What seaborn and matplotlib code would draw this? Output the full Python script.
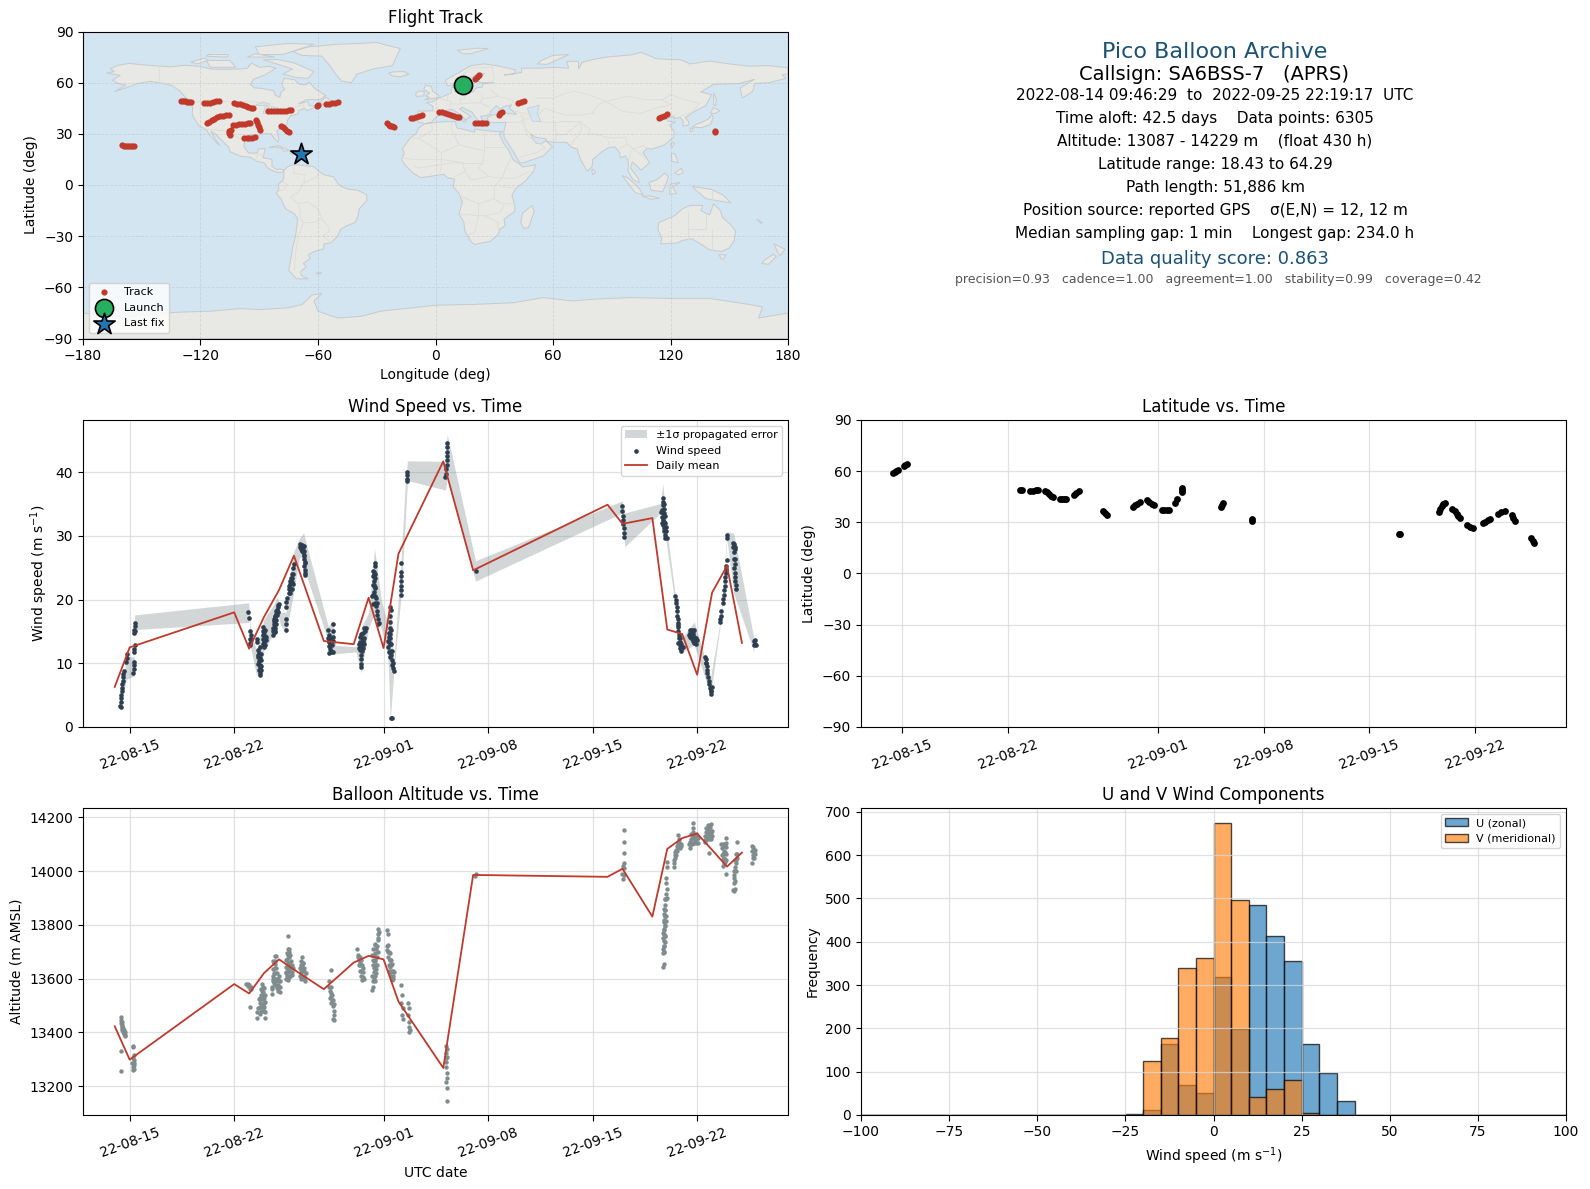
import numpy as np
import pandas as pd
import seaborn as sns
import matplotlib
matplotlib.use('Agg')
import matplotlib.pyplot as plt
import matplotlib.dates as mdates

# days are counted so that 15 = Aug 15, 32 = Sep 1, 53 = Sep 22
mean_days = [14, 15, 22, 23, 24, 25, 26, 28, 30, 31, 32, 33, 36, 38, 47, 48, 50, 51, 52, 53, 54, 55, 56]
mean_wind = [6.3, 12.5, 18.0, 12.3, 17.3, 21.5, 26.9, 13.5, 13.0, 20.3, 12.4, 27.2, 41.7, 24.6, 34.9, 31.9, 32.8,
             15.3, 14.6, 8.2, 21.1, 25.3, 13.2]
mean_alt = [13423, 13299, 13580, 13545, 13621, 13672, 13634, 13561, 13660, 13685, 13672, 13515, 13268, 13986, 13979,
            14009, 13831, 14083, 14123, 14140, 14079, 14017, 14069]

wind_points = [
    (14.38, 3.3), (14.42, 3.2), (14.40, 3.9), (14.43, 4.5), (14.45, 5.1), (14.47, 5.7), (14.49, 6.2), (14.51, 6.8),
    (14.53, 7.3), (14.56, 7.8), (14.58, 8.3), (14.62, 8.8), (14.78, 10.2), (14.80, 10.8), (14.84, 11.4),
    (15.24, 8.4), (15.26, 9.1), (15.28, 9.7), (15.31, 10.2), (15.28, 11.7), (15.31, 12.3), (15.33, 12.9),
    (15.30, 14.7), (15.32, 15.3), (15.33, 15.8), (15.35, 16.3), (15.33, 15.0),
    (22.95, 18.0), (22.96, 17.1), (23.08, 15.0), (23.10, 14.4), (23.06, 13.8), (23.04, 13.2), (23.12, 13.8), (23.08, 12.9),
    (23.5, 13.8), (23.55, 13.4), (23.62, 12.1), (23.66, 11.6), (23.62, 11.0), (23.68, 10.4), (23.6, 9.9), (23.7, 9.4),
    (23.72, 8.9), (23.76, 8.4), (23.72, 8.1), (23.8, 8.9), (23.78, 10.5), (23.82, 11.4),
    (23.58, 11.3), (23.7, 10.9), (23.75, 9.8), (23.65, 9.0), (23.8, 9.6), (23.7, 12.6), (24.08, 15.2), (24.1, 13.6),
    (24.05, 12.8), (23.9, 13.8),
    (23.92, 15.7), (23.95, 15.1), (23.93, 14.5), (24.0, 14.9), (24.05, 14.3), (24.12, 14.2), (24.0, 13.6), (23.95, 13.1),
    (24.02, 13.3), (23.97, 12.5),
    (24.58, 14.4), (24.62, 15.0), (24.6, 15.6), (24.65, 16.1), (24.68, 16.6), (24.72, 16.2), (24.7, 15.1), (24.75, 17.2),
    (24.8, 17.7), (24.78, 18.2), (24.85, 18.4), (24.9, 18.9), (24.95, 19.1), (25.0, 19.3), (24.88, 17.6), (24.82, 16.8),
    (24.7, 17.4), (24.65, 17.0), (24.8, 16.2), (24.75, 15.6), (24.9, 18.0), (24.68, 15.5), (24.72, 14.9),
    (25.45, 15.3), (25.45, 16.2), (25.47, 16.9), (25.47, 18.8), (25.5, 19.7), (25.52, 20.2), (25.65, 21.0), (25.7, 21.7),
    (25.75, 22.4), (25.8, 22.9), (25.72, 23.0), (25.85, 21.6), (25.92, 22.5), (25.9, 23.4), (25.95, 24.1), (25.95, 25.0),
    (26.0, 25.6), (25.75, 21.0), (25.8, 21.6), (25.85, 22.8), (25.78, 23.4), (25.88, 24.0), (25.7, 22.2),
    (26.38, 28.3), (26.45, 28.0), (26.5, 28.4), (26.55, 27.8), (26.62, 28.2), (26.65, 27.6), (26.7, 27.0), (26.68, 26.4),
    (26.72, 25.9), (26.7, 25.3), (26.75, 24.7), (26.73, 24.2), (26.76, 23.8),
    (26.42, 28.7), (26.52, 27.6), (26.6, 27.4), (26.7, 28.4), (26.55, 28.6), (26.66, 26.9), (26.75, 25.7),
    (28.3, 15.2), (28.35, 14.5), (28.3, 13.9), (28.32, 13.3), (28.36, 12.7), (28.4, 12.2), (28.38, 11.6), (28.5, 12.0),
    (28.62, 16.1), (28.62, 15.0), (28.62, 14.2), (28.6, 13.5), (28.58, 12.9), (28.64, 11.8),
    (28.35, 13.5), (28.4, 14.0), (28.42, 12.9), (28.45, 11.8),
    (30.35, 12.4), (30.42, 12.1), (30.38, 13.0), (30.5, 14.6), (30.55, 14.0), (30.6, 13.4), (30.52, 12.6), (30.58, 11.9),
    (30.5, 11.3), (30.52, 10.7), (30.5, 9.9), (30.52, 9.4), (30.62, 13.6), (30.68, 13.0), (30.72, 14.0), (30.75, 15.0),
    (30.8, 15.5), (30.72, 15.5), (30.45, 13.4), (30.42, 14.2), (30.6, 12.4), (30.5, 13.0), (30.65, 14.8),
    (31.3, 19.3), (31.22, 20.6), (31.3, 20.8), (31.35, 23.9), (31.38, 24.4), (31.42, 25.8), (31.36, 22.9), (31.42, 23.4),
    (31.38, 22.3), (31.4, 21.8), (31.42, 20.6), (31.4, 19.5), (31.5, 19.0), (31.55, 18.2), (31.58, 17.6), (31.65, 17.0),
    (31.7, 16.4), (31.65, 16.1), (31.42, 25.2), (31.45, 24.0),
    (31.3, 23.7), (31.32, 22.3), (31.28, 24.5), (31.35, 21.2), (31.45, 22.0), (31.5, 20.3), (31.55, 19.4),
    (32.42, 18.9), (32.48, 18.4), (32.4, 17.5), (32.45, 16.5), (32.4, 15.5), (32.38, 14.7), (32.42, 13.9), (32.35, 13.3),
    (32.3, 12.5), (32.35, 11.8), (32.4, 12.0), (32.5, 13.0), (32.55, 12.0), (32.5, 11.3), (32.55, 10.5), (32.6, 10.0),
    (32.65, 9.3), (32.7, 8.8), (32.5, 1.4), (32.55, 1.4),
    (32.45, 14.6), (32.35, 14.2), (32.5, 15.2), (32.3, 13.5), (32.45, 11.0), (32.4, 13.0), (32.55, 9.8),
    (33.2, 25.7), (33.18, 24.4), (33.2, 23.7), (33.16, 23.0), (33.18, 22.2), (33.16, 21.5), (33.14, 20.8),
    (33.6, 40.1), (33.6, 39.6), (33.6, 39.0), (33.58, 38.7),
    (36.14, 39.2), (36.2, 39.8), (36.2, 40.5), (36.22, 41.2), (36.22, 41.9), (36.26, 42.6), (36.26, 43.2), (36.26, 43.9),
    (36.26, 44.6), (38.2, 24.45),
    (47.95, 34.7), (48.0, 33.9), (48.03, 33.2), (48.05, 32.5), (48.03, 31.9), (48.07, 31.2), (48.1, 30.5), (48.08, 29.9),
    (50.7, 36.0), (50.7, 35.4), (50.68, 34.8), (50.66, 34.1), (50.72, 33.6), (50.62, 33.0), (50.68, 32.5), (50.76, 33.2),
    (50.8, 33.6), (50.76, 32.2), (50.7, 31.7), (50.78, 31.3), (50.84, 32.0), (50.8, 30.7), (50.86, 30.2), (50.92, 30.7),
    (50.95, 29.6), (50.8, 35.0), (50.76, 34.2), (50.6, 33.8), (50.85, 33.2), (50.72, 32.9), (50.64, 32.0), (50.9, 31.4), (50.82, 29.7),
    (51.55, 20.5), (51.6, 20.0), (51.6, 19.4), (51.62, 18.8), (51.66, 18.2), (51.68, 17.5), (51.7, 16.9), (51.72, 16.3),
    (51.72, 15.7), (51.74, 15.1), (51.78, 14.5), (51.8, 13.9), (51.82, 13.4), (51.85, 12.9), (51.88, 12.4), (51.95, 12.2),
    (52.02, 12.6), (51.92, 13.1), (51.7, 16.0), (51.82, 14.0), (51.75, 13.2), (51.9, 12.0),
    (52.45, 14.4), (52.52, 15.2), (52.6, 14.9), (52.65, 15.3), (52.7, 14.6), (52.62, 14.0), (52.72, 13.8), (52.8, 14.2),
    (52.85, 13.5), (52.78, 15.2), (52.92, 13.1), (52.98, 13.6),
    (52.5, 14.2), (52.65, 14.5), (52.75, 15.0), (52.7, 13.5), (52.9, 13.9), (52.8, 13.2), (52.55, 14.8),
    (53.5, 11.0), (53.6, 10.7), (53.58, 10.0), (53.65, 9.6), (53.68, 9.0), (53.68, 8.4), (53.72, 7.8), (53.78, 7.3),
    (53.8, 6.7), (53.85, 6.2), (53.9, 5.7), (53.92, 5.2), (53.95, 5.7), (53.98, 6.3), (53.6, 10.0),
    (54.5, 16.5), (54.55, 16.9), (54.6, 17.5), (54.6, 18.2), (54.7, 19.4), (54.75, 20.1), (54.8, 20.8), (54.82, 21.5),
    (54.85, 22.2), (54.85, 22.9), (54.88, 23.6), (54.9, 24.2), (54.92, 24.8), (54.95, 25.3), (54.98, 26.2), (54.98, 30.2),
    (54.98, 29.7),
    (55.42, 28.9), (55.48, 28.7), (55.52, 28.2), (55.5, 27.5), (55.45, 26.4), (55.52, 25.6), (55.5, 25.0), (55.52, 24.2),
    (55.55, 23.6), (55.55, 22.9), (55.6, 22.3), (55.58, 21.6), (55.55, 28.0), (55.4, 28.3), (55.55, 26.3),
    (56.78, 12.8), (56.85, 13.1), (56.9, 13.7), (56.92, 12.9), (56.82, 13.5),
]

# day, low, high of the propagated error band
wind_band = [
    (14.3, 3.0, 3.9), (14.8, 7.5, 11.0), (15.30, 8.0, 11.0), (15.33, 15.3, 17.6), (22.97, 16.4, 19.5), (23.0, 17.0, 18.4),
    (23.1, 12.5, 15.0), (23.5, 8.0, 12.0), (24.0, 12.0, 17.0), (24.6, 14.5, 19.0), (24.9, 18.0, 20.5), (25.1, 16.0, 18.0),
    (25.47, 14.8, 18.0), (25.9, 20.0, 27.0), (26.36, 26.5, 29.6), (26.65, 27.0, 30.5), (26.8, 24.0, 29.0), (28.3, 13.5, 15.8),
    (28.6, 11.4, 16.8), (28.8, 11.5, 12.8), (30.15, 11.8, 12.6), (30.5, 8.5, 15.5), (31.0, 15.5, 18.0), (31.4, 18.0, 28.0),
    (31.85, 15.5, 20.0), (32.3, 11.0, 16.0), (32.45, 1.0, 20.5), (32.68, 8.5, 10.0), (33.17, 20.5, 26.0), (33.45, 32.0, 38.0),
    (33.6, 38.7, 41.8), (36.15, 37.2, 41.7), (36.26, 39.3, 46.0), (38.16, 22.9, 26.1), (47.98, 33.6, 35.5), (48.15, 28.3, 33.6),
    (50.55, 33.6, 35.1), (50.7, 33.0, 38.3), (51.0, 27.8, 30.4), (51.55, 18.9, 20.5), (51.9, 11.6, 13.7), (52.8, 12.9, 16.5),
    (53.9, 5.0, 7.9), (54.56, 16.3, 16.8), (55.0, 29.4, 30.7), (55.45, 21.0, 30.4), (56.8, 11.8, 13.9),
]

alt_points = [
    (14.42, 13456), (14.45, 13445), (14.44, 13435), (14.46, 13425), (14.5, 13418), (14.52, 13408), (14.55, 13400),
    (14.6, 13396), (14.66, 13390), (14.72, 13388), (14.52, 13428), (14.6, 13410), (14.42, 13332), (14.42, 13256),
    (14.55, 13415), (14.62, 13400), (14.5, 13440), (14.68, 13400),
    (15.22, 13349), (15.25, 13345), (15.3, 13318), (15.24, 13305), (15.3, 13296), (15.26, 13285), (15.22, 13272), (15.2, 13260),
    (15.3, 13280), (15.18, 13285), (15.3, 13265),
    (22.8, 13582), (22.9, 13581), (23.0, 13578), (23.1, 13570), (23.15, 13560), (23.05, 13563), (22.95, 13572), (23.03, 13493),
    (23.55, 13452), (23.55, 13475), (23.58, 13490), (24.05, 13455), (24.0, 13480), (23.85, 13581), (23.9, 13568), (23.95, 13550),
    (24.0, 13565), (23.8, 13540), (23.85, 13525), (23.75, 13510), (23.9, 13505), (23.95, 13525), (24.05, 13540), (23.7, 13495),
    (23.65, 13525), (23.8, 13480), (24.02, 13495), (24.08, 13515),
    (23.7, 13530), (23.8, 13560), (23.9, 13540), (23.95, 13500), (24.0, 13510), (23.85, 13495), (23.75, 13470), (24.05, 13475),
    (23.9, 13480), (23.85, 13555), (24.0, 13530), (23.75, 13525),
    (24.55, 13544), (24.52, 13570), (24.58, 13590), (24.62, 13610), (24.6, 13635), (24.65, 13660), (24.7, 13685), (24.8, 13686),
    (24.72, 13665), (24.78, 13640), (24.85, 13620), (24.8, 13600), (24.75, 13575), (24.85, 13590), (24.95, 13575), (25.05, 13550),
    (25.02, 13570), (25.1, 13590), (25.0, 13610), (24.92, 13555),
    (24.6, 13600), (24.65, 13620), (24.7, 13640), (24.7, 13600), (24.55, 13560), (24.65, 13585), (24.75, 13620), (24.9, 13600),
    (24.85, 13565), (25.0, 13590), (25.05, 13570), (24.75, 13655), (24.6, 13665),
    (25.45, 13620), (25.48, 13645), (25.5, 13670), (25.55, 13695), (25.62, 13710), (25.7, 13710), (25.75, 13690), (25.65, 13680),
    (25.58, 13660), (25.7, 13660), (25.78, 13645), (25.85, 13625), (25.75, 13625), (25.65, 13630), (25.55, 13610), (25.5, 13600),
    (25.6, 13595), (25.7, 13605), (25.63, 13760), (25.95, 13640),
    (25.55, 13640), (25.6, 13625), (25.65, 13655), (25.7, 13640), (25.8, 13665), (25.85, 13650), (25.6, 13690), (25.55, 13675),
    (25.75, 13610), (25.9, 13615), (25.5, 13625), (25.65, 13700),
    (26.38, 13640), (26.45, 13665), (26.52, 13680), (26.55, 13650), (26.6, 13630), (26.65, 13600), (26.7, 13610), (26.75, 13590),
    (26.8, 13620), (26.5, 13625), (26.42, 13610), (26.55, 13605), (26.62, 13660),
    (26.45, 13635), (26.5, 13650), (26.6, 13660), (26.7, 13630), (26.5, 13600), (26.65, 13640),
    (28.5, 13633), (28.35, 13590), (28.32, 13570), (28.4, 13555), (28.45, 13570), (28.42, 13530), (28.48, 13510), (28.55, 13520),
    (28.6, 13498), (28.65, 13505), (28.68, 13480), (28.55, 13540), (28.62, 13450), (28.65, 13448), (28.7, 13464),
    (28.45, 13545), (28.5, 13535), (28.6, 13520),
    (30.25, 13711), (30.28, 13690), (30.33, 13670), (30.4, 13650), (30.45, 13630), (30.5, 13610), (30.55, 13595), (30.6, 13605),
    (30.65, 13625), (30.55, 13650), (30.5, 13670), (30.4, 13680), (30.7, 13600),
    (30.3, 13680), (30.45, 13660), (30.6, 13640), (30.35, 13650), (30.5, 13630),
    (31.65, 13785), (31.62, 13765), (31.7, 13775), (31.6, 13745), (31.55, 13720), (31.4, 13725), (31.3, 13710), (31.35, 13690),
    (31.45, 13695), (31.55, 13680), (31.4, 13665), (31.3, 13650), (31.38, 13640), (31.48, 13650), (31.52, 13620), (31.42, 13610),
    (31.35, 13600), (31.3, 13590), (31.27, 13570), (31.26, 13557), (31.33, 13625), (31.2, 13690),
    (31.45, 13730), (31.5, 13710), (31.6, 13700), (31.35, 13665), (31.45, 13670), (31.5, 13635), (31.4, 13640), (31.25, 13610),
    (31.45, 13590), (31.55, 13650), (31.3, 13670), (31.65, 13750),
    (32.25, 13780), (32.3, 13765), (32.2, 13720), (32.25, 13705), (32.35, 13700), (32.3, 13680), (32.4, 13670), (32.35, 13650),
    (32.45, 13645), (32.5, 13670), (32.4, 13625), (32.48, 13610), (32.6, 13630), (32.65, 13600), (32.55, 13595), (32.7, 13625),
    (32.3, 13725), (32.4, 13695), (32.45, 13670), (32.5, 13650), (32.35, 13630), (32.55, 13630), (32.6, 13610), (32.4, 13650),
    (32.3, 13700), (32.45, 13625), (32.55, 13655),
    (33.15, 13575), (33.22, 13540), (33.18, 13510), (33.28, 13490), (33.62, 13510), (33.68, 13490), (33.25, 13465), (33.3, 13450),
    (33.65, 13465), (33.7, 13440), (33.68, 13420), (33.7, 13402), (33.75, 13410),
    (36.18, 13350), (36.2, 13325), (36.15, 13305), (36.18, 13290), (36.2, 13270), (36.22, 13250), (36.25, 13230), (36.2, 13215),
    (36.25, 13195), (36.28, 13145), (36.22, 13340), (36.25, 13310), (38.15, 13983), (38.18, 13990),
    (48.09, 14155), (48.09, 14107), (48.09, 14066), (48.05, 14020), (48.08, 14030), (48.12, 14010), (47.98, 13990), (48.02, 13970),
    (48.1, 13985),
    (50.98, 14033), (51.0, 14015), (50.9, 13976), (50.92, 13955), (50.95, 13935), (50.9, 13915), (50.88, 13895), (50.85, 13875),
    (50.82, 13855), (50.85, 13835), (50.9, 13815), (50.88, 13795), (50.8, 13780), (50.75, 13765), (50.78, 13740), (50.72, 13750),
    (50.75, 13720), (50.7, 13710), (50.8, 13700), (50.72, 13695), (50.74, 13645), (50.8, 13655), (50.82, 13835), (50.78, 13810),
    (50.88, 13760), (50.82, 13760),
    (50.85, 13895), (50.92, 13895), (50.78, 13840), (50.85, 13800), (50.8, 13820), (50.9, 13835), (50.88, 13855), (50.78, 13785),
    (50.72, 13770), (50.85, 13735), (50.8, 13720), (50.75, 13700), (50.78, 13860), (50.95, 13900),
    (51.43, 14016), (51.47, 14030), (51.5, 14050), (51.52, 14070), (51.58, 14080), (51.65, 14095), (51.75, 14134), (51.78, 14120),
    (51.7, 14105), (51.85, 14100), (51.95, 14095),
    (51.55, 14060), (51.6, 14060), (51.65, 14075), (51.75, 14090), (51.85, 14085), (51.45, 14040), (51.95, 14100), (51.8, 14110),
    (52.45, 14100), (52.55, 14100), (52.6, 14120), (52.7, 14130), (52.72, 14181), (52.72, 14160), (52.75, 14145), (52.85, 14115),
    (52.95, 14115), (52.9, 14135), (53.0, 14130), (52.65, 14100), (53.05, 14125),
    (52.5, 14110), (52.6, 14100), (52.7, 14105), (52.8, 14130), (52.9, 14105), (52.6, 14140), (52.8, 14105), (52.95, 14140),
    (53.05, 14105), (52.75, 14125), (52.55, 14085),
    (53.5, 14110), (53.55, 14130), (53.6, 14145), (53.7, 14155), (53.78, 14165), (53.85, 14165), (53.95, 14150), (54.0, 14130),
    (53.7, 14125), (53.85, 14130), (53.75, 14140), (53.76, 14066),
    (53.55, 14115), (53.65, 14120), (53.8, 14150), (53.9, 14140), (54.0, 14150), (53.6, 14160), (53.8, 14120), (53.9, 14120),
    (53.7, 14170), (53.95, 14175),
    (54.6, 14100), (54.65, 14085), (54.7, 14065), (54.75, 14045), (54.85, 14035), (54.92, 14124), (54.92, 14090), (54.9, 14065),
    (54.95, 14040), (54.85, 14070), (54.8, 14095), (54.92, 13989), (54.75, 14020),
    (54.7, 14100), (54.8, 14075), (54.85, 14100), (54.65, 14060), (54.8, 14050), (54.9, 14105), (54.88, 14040), (54.78, 14030),
    (55.66, 14107), (55.7, 14065), (55.65, 14050), (55.6, 14030), (55.55, 14015), (55.5, 14000), (55.5, 13975), (55.5, 13955),
    (55.43, 13930), (55.47, 13925), (55.53, 13935), (55.58, 14040),
    (55.55, 14000), (55.6, 14000), (55.55, 14040), (55.62, 14065), (55.5, 13985), (55.55, 13965),
    (56.68, 14095), (56.7, 14075), (56.75, 14060), (56.82, 14050), (56.88, 14065), (56.78, 14080), (56.65, 14030),
    (56.72, 14050), (56.82, 14070), (56.85, 14080), (56.72, 14090),
]

lat_points = [
    (14.4, 58.8), (14.5, 59.5), (14.6, 60.2), (14.7, 60.8), (15.1, 63.1), (15.2, 63.9), (15.3, 64.3),
    (22.85, 48.8), (22.95, 48.8), (23.5, 48.4), (23.7, 48.6), (23.85, 48.9), (24.0, 49.2),
    (24.45, 48.4), (24.6, 47.5), (24.75, 46.5), (24.9, 45.6), (25.0, 45.1), (25.45, 43.7), (25.6, 43.7), (25.75, 43.8), (25.9, 43.9),
    (26.4, 46.1), (26.55, 47.4), (26.75, 48.6), (28.3, 36.5), (28.45, 35.4), (28.6, 34.3),
    (30.3, 39.2), (30.45, 40.0), (30.6, 40.7), (30.8, 41.8), (31.25, 43.1), (31.4, 42.1), (31.55, 41.0), (31.7, 40.0),
    (32.25, 37.3), (32.4, 37.3), (32.55, 37.2), (32.7, 37.1), (33.1, 41.2), (33.25, 43.5), (33.55, 47.6), (33.55, 48.8), (33.58, 50.0),
    (36.15, 38.8), (36.22, 40.2), (36.3, 41.6), (38.2, 31.0), (38.2, 31.8), (47.95, 22.9), (48.05, 22.9),
    (50.6, 36.3), (50.7, 37.9), (50.8, 39.5), (50.9, 40.8), (51.0, 41.6),
    (51.5, 38.0), (51.65, 36.4), (51.8, 34.8), (51.9, 33.6), (52.0, 32.4), (52.5, 28.2), (52.7, 27.5), (52.9, 26.9),
    (53.55, 29.4), (53.7, 30.4), (53.85, 31.2), (54.0, 32.2), (54.55, 34.9), (54.75, 35.8), (55.0, 36.9),
    (55.45, 34.3), (55.55, 32.7), (55.65, 31.0), (56.75, 20.6), (56.82, 19.1), (56.9, 17.6),
]

track_points = [
    (-160, 23.2), (-159, 22.8), (-158, 22.8), (-157, 22.9), (-156, 22.8), (-155, 22.7), (-154, 22.9),
    (-130, 49.2), (-129, 49.2), (-128, 49.1), (-127, 48.9), (-126, 48.6), (-125, 48.4),
    (-118, 48.0), (-116.5, 48.0), (-115, 48.3), (-113.5, 48.6), (-112, 49.0), (-110.5, 49.2),
    (-103, 48.0), (-101.5, 47.6), (-100, 47.2), (-98.5, 46.8), (-97, 46.4), (-95.5, 45.8), (-94, 45.3), (-93, 45.2),
    (-85.5, 43.1), (-84, 43.1), (-82.5, 43.2), (-81, 43.3), (-79.5, 43.4), (-78, 43.4), (-76.5, 43.6), (-75, 43.8), (-74, 44.0),
    (-60.3, 46.6), (-60, 46.7), (-56, 47.2), (-54.5, 47.5), (-53, 47.8), (-51.5, 48.0), (-50, 48.4),
    (-116.7, 36.1), (-115.5, 37.0), (-114.3, 38.0), (-113, 38.9), (-111.5, 39.6), (-110, 40.2), (-108.5, 40.6), (-107, 40.9), (-105.5, 41.1),
    (-105, 29.3), (-105.6, 30.5), (-105.2, 31.7), (-104.5, 32.4),
    (-103.5, 35.0), (-102, 35.4), (-100.5, 35.7), (-99, 35.9), (-97.5, 36.0), (-96, 36.1), (-94.5, 36.1),
    (-91.7, 38.2), (-91, 36.8), (-90.6, 35.3), (-90.2, 33.9), (-89.8, 32.5),
    (-98, 27.3), (-96.5, 27.5), (-95, 27.6), (-93.5, 27.7), (-92, 28.0),
    (-79, 34.8), (-78, 33.9), (-77, 33.0), (-76, 31.9), (-75, 30.8),
    (-24.7, 36.2), (-24, 35.3), (-23, 34.7), (-22, 34.5), (-21, 34.2),
    (-12.7, 39.0), (-11.5, 39.4), (-10, 40.0), (-8.5, 40.4), (-7, 41.0),
    (2, 42.6), (3.5, 42.6), (5, 42.2), (6.5, 41.7), (8, 41.2), (9.5, 40.6), (11, 39.9), (12.2, 39.6),
    (20, 36.6), (21.5, 36.5), (23, 36.5), (24.5, 36.5), (26, 36.6),
    (32.4, 41.0), (33, 42.0), (33.8, 43.0), (42, 48.1), (43.5, 48.7), (45, 49.3),
    (20.3, 62.4), (21.2, 63.4), (22.3, 64.3), (114, 39.4), (115.3, 39.9), (116.5, 40.6), (118, 41.7),
    (142.7, 31.2), (142.7, 31.6),
]
launch_lon, launch_lat = [13.8], [58.5]
last_lon, last_lat = [-68.9], [18.43]

hist_edges = list(range(-100, 105, 5))
hist_centres = [-22.5, -17.5, -12.5, -7.5, -2.5, 2.5, 7.5, 12.5, 17.5, 22.5, 27.5, 32.5, 37.5]
u_counts = [3, 12, 165, 70, 50, 318, 198, 486, 413, 356, 165, 97, 32]
v_counts = [0, 125, 178, 340, 362, 675, 496, 42, 60, 80, 5, 0, 0]

land_shapes = [
    [(-168, 65.6), (-164, 66.5), (-166, 68.3), (-162, 70.2), (-156.5, 71.3), (-150, 70.5), (-141, 69.7), (-135, 69.3), (-128, 70.2),
     (-120, 69.5), (-115, 68), (-108, 67.8), (-100, 68), (-96, 68.5), (-94, 71.5), (-90, 69), (-85, 69.5), (-81.5, 68.5), (-85, 66),
     (-87, 64.5), (-93, 62), (-94.5, 59), (-92.5, 57), (-88, 56.5), (-82.5, 55.2), (-82, 52.8), (-79.5, 51.3), (-79, 54.5), (-77, 56),
     (-78.5, 58.8), (-77.5, 62.5), (-72, 61.8), (-69.5, 59), (-66, 58.8), (-64.5, 60.3), (-61.5, 56.5), (-56, 52.5), (-59, 50), (-66, 50),
     (-70, 47.5), (-65, 49), (-64.5, 46.5), (-60, 46.5), (-65.5, 43.5), (-67, 45), (-70, 43.5), (-70, 41.7), (-74, 40.6), (-75.5, 38),
     (-76, 35.3), (-78, 33.8), (-81, 31.8), (-80, 26.8), (-80.5, 25.2), (-82.7, 28), (-84, 30), (-89, 30.2), (-90, 29.2), (-94, 29.6),
     (-97.3, 27.8), (-97.8, 22.5), (-95.5, 18.8), (-91, 18.7), (-90.5, 21), (-87, 21.5), (-88, 16), (-83.5, 15), (-83.5, 11), (-81, 8.9),
     (-79.5, 9.5), (-77.3, 8.6), (-78, 7.5), (-80.5, 7.3), (-83, 8.3), (-85.7, 10), (-87.5, 13), (-91.5, 14), (-94.5, 16.2), (-99, 16.7),
     (-105, 19.5), (-105.5, 22), (-109, 26), (-112.5, 30), (-114.7, 31.5), (-112.5, 27), (-110, 23), (-112, 25), (-115, 29), (-117.2, 32.5),
     (-120.5, 34.5), (-122.5, 37.7), (-124.2, 41), (-124, 46), (-124.7, 48.4), (-123, 49), (-127.5, 51), (-130, 54.5), (-134, 58), (-140, 59.8),
     (-146, 60.8), (-152, 59.5), (-158, 57), (-164, 54.7), (-158, 58.5), (-162, 59.5), (-165, 61.5), (-161, 64.3)],
    [(-80, 73.5), (-72, 71.5), (-67, 69), (-62, 66.5), (-65, 62.5), (-71, 63), (-78, 65), (-73, 68), (-88, 73.5)],
    [(-117, 73), (-105, 73), (-102, 69), (-115, 69)],
    [(-90, 76.5), (-78, 76.5), (-62, 82.5), (-75, 83), (-92, 81)],
    [(-125, 72), (-118, 74.5), (-116, 73), (-122, 71)],
    [(-96, 75), (-82, 75), (-92, 77)],
    [(-117, 75.5), (-106, 75), (-106, 76.5), (-116, 76.5)],
    [(-59, 47.7), (-53, 46.7), (-53, 49), (-56, 51.5), (-58, 49.5)],
    [(-73, 78.2), (-68, 76), (-58, 75.5), (-54, 70), (-51, 65), (-48, 61), (-43, 60), (-40, 65), (-32, 68), (-22, 70), (-20, 75), (-18, 80),
     (-30, 83.5), (-50, 82.5), (-65, 81)],
    [(-85, 22), (-80, 23), (-74.3, 20.2), (-77.5, 19.9), (-78.5, 21.5), (-82, 22.4)],
    [(-74.3, 19.8), (-70, 19.8), (-68.4, 18.5), (-71, 18), (-74.3, 18.3)],
    [(-77.3, 8.6), (-75.5, 10.8), (-72, 12), (-68, 11.5), (-62, 10.7), (-60, 8.5), (-57, 6), (-52, 4.8), (-50, 1), (-48, -1), (-44, -2.5),
     (-40, -3), (-35.2, -5.5), (-35, -9), (-39, -14), (-39.5, -18), (-41, -22), (-45, -23.7), (-48.5, -26), (-50, -30), (-53.5, -34), (-57, -34.5),
     (-57, -37.5), (-62, -39), (-65, -41), (-64, -43), (-67.5, -46), (-66, -48), (-69, -51), (-68.5, -53), (-65, -55), (-71, -55), (-75, -50),
     (-74, -44), (-73, -37), (-71.5, -30), (-70.3, -20), (-72, -17), (-76.5, -14), (-79, -8), (-81.3, -5), (-80, -2.5), (-80.3, 0.5), (-78.5, 2),
     (-77.5, 4), (-77.5, 7)],
    [(-61, -51.5), (-58, -51.5), (-59.5, -52.3)],
    [(-5.8, 35.8), (3, 37), (10, 37.3), (11, 33.5), (15.5, 32.3), (20, 31), (20, 32.8), (25, 32), (32, 31.2), (34.2, 31.3), (32.5, 29.8), (35, 24),
     (37.3, 20.5), (39.5, 15), (43.2, 12), (44.5, 10.5), (51.2, 11.9), (50, 8), (46, 2.5), (41, -2), (39, -6), (40.5, -12), (40.5, -15.5), (35, -20),
     (35.5, -24), (32.8, -26), (32, -29), (28, -33), (20, -34.8), (18.3, -33.5), (15, -27), (14.5, -22), (12, -17), (13.7, -10), (12, -5), (9, -1),
     (9.7, 3.5), (6, 4.3), (4, 6.3), (-3, 5), (-7.5, 4.3), (-11.5, 7), (-15, 11), (-17.3, 14.7), (-16, 19), (-17, 21), (-13, 27.5), (-10, 30), (-8.5, 33.5)],
    [(49.3, -12), (50.4, -15.5), (47.5, -25), (45, -25.5), (43.5, -22), (44.5, -16.5)],
    [(-9.3, 38.8), (-8.8, 43.3), (-1.5, 43.5), (-1.2, 46), (-4.5, 48.4), (-1.5, 48.8), (1.5, 50.9), (4, 52), (8, 54), (8.2, 57), (10.5, 57.7), (10, 54.5),
     (14, 54), (19, 54.5), (21, 57), (24, 57.5), (24, 59.3), (30, 60), (23, 60), (21.5, 61), (25, 65.3), (22, 65.8), (17.5, 62), (18.5, 60), (16.5, 56.5),
     (14, 55.5), (12.7, 56), (11, 59), (6, 58.2), (5, 61.5), (12, 66), (18, 70), (25, 71), (31, 70), (41, 67.5), (40, 65), (35, 64.5), (44, 66), (44, 68.5),
     (54, 68.5), (60, 69), (68, 68.5), (67, 72.5), (73, 72.5), (73, 68), (75, 72), (80, 73.5), (87, 75), (100, 76.3), (105, 77.8), (113, 74), (125, 73.5),
     (130, 71), (140, 72.7), (150, 71), (160, 69.7), (170, 70), (178, 69), (180, 68.8), (180, 65), (177, 64.7), (179, 62.5), (170, 60), (163, 59.5), (162, 55),
     (156.7, 51), (155.5, 57), (163, 62), (155, 59.5), (142, 59), (135.5, 54.5), (141, 53), (138, 46.5), (132, 43), (129.5, 41), (127.5, 39.5), (129.4, 37),
     (129, 35), (126.3, 34.5), (126.5, 37.5), (125, 39.5), (121.5, 39), (122, 40.5), (118, 39), (119, 37.3), (122.5, 37), (119.5, 35), (122, 31), (121.5, 28),
     (117, 23.5), (110.5, 21), (108, 21.5), (106, 19), (109.3, 13), (105, 8.7), (103, 11), (100.5, 13.5), (99.5, 10), (103.5, 4), (104, 1.3), (101, 3), (98.3, 8),
     (98.5, 14), (97, 17), (94.3, 16), (94, 19), (91.5, 22.5), (88, 21.7), (85, 19.5), (80.3, 15), (80, 11), (77.5, 8), (74.5, 14), (72.8, 19), (72.5, 21),
     (69, 22.3), (67, 25), (61.5, 25), (57, 25.5), (56.5, 27), (51, 28), (48.5, 30), (50, 26.5), (51.5, 24.5), (54, 24), (56.3, 26), (59.8, 22.5), (55, 17),
     (45, 13), (43, 13), (39, 21), (35, 28), (34.9, 31.5), (35.7, 35), (36, 36.7), (30.5, 36.5), (27.3, 37), (26.3, 39.5), (29, 41), (35, 42), (41.5, 41.5),
     (37.5, 45), (39, 47), (35, 46), (33, 44.5), (31, 46.5), (28, 43), (28, 41.5), (26, 40.7), (23, 40.3), (24, 38), (22.8, 36.5), (19.5, 41), (19, 42.5),
     (13.5, 45.5), (12.3, 44.5), (16, 41.8), (18.4, 40), (16.5, 39.5), (15.7, 38), (12.5, 41.5), (8.5, 44.4), (3.2, 43.2), (3, 41.8), (0, 39.5), (-2, 36.8),
     (-5.5, 36), (-9, 37)],
    [(-5.5, 50), (1.4, 51.2), (1.7, 52.7), (-1.5, 55), (-2, 57.6), (-5, 58.6), (-6, 56), (-3, 54), (-5, 52), (-3, 51.4)],
    [(-10, 52), (-6, 52.2), (-5.7, 54.7), (-8, 55.2), (-10, 54)],
    [(-24, 65.5), (-22, 64), (-18, 63.4), (-13.6, 65), (-16, 66.5), (-22, 66.3)],
    [(11, 79), (21, 80.2), (27, 80), (18, 77), (14, 77)],
    [(52, 71), (57, 70.7), (68, 76.5), (60, 76), (54, 73)],
    [(142, 54), (143.5, 50), (143, 46.5), (142, 47), (142, 51)],
    [(140.5, 42), (141.8, 45.4), (145.3, 43.5), (143, 42)],
    [(131, 34), (136, 33.6), (140.5, 35.5), (141.8, 39.5), (141, 41.4), (139.8, 39), (136.5, 37), (133, 35.6)],
    [(130, 33.5), (131.8, 33), (130.8, 31.2), (130.2, 31.5)],
    [(121, 25), (122, 24.5), (120.8, 22), (120, 23.5)],
    [(80, 9.5), (81.8, 7.5), (80.5, 6), (79.8, 8)],
    [(120.5, 18.5), (122.2, 18.3), (124, 13), (120.7, 14)],
    [(122, 7), (125.5, 9.8), (126.5, 7), (124, 6)],
    [(95.2, 5.6), (98.5, 4), (104, -2), (106, -5.8), (102, -4.5)],
    [(105.5, -6.5), (110, -6.5), (114.5, -7.8), (110, -8.3)],
    [(109, 1.5), (113, 3), (117, 7), (119, 5), (117.8, 1), (116, -4), (110, -3)],
    [(119.5, -5.5), (120, 0.5), (125, 1.5), (121, -1), (123, -5)],
    [(131, -0.8), (141, -2.6), (147, -6), (150.8, -10.5), (143, -9), (138, -8), (134, -4)],
    [(114, -22), (122, -18), (126, -14), (130, -12), (136.5, -12), (135.5, -15), (140, -17.5), (142, -11), (145.5, -15), (146.5, -19), (150.5, -23),
     (153.3, -27), (152.5, -32.5), (150, -37), (146, -39), (140, -38), (136, -35), (131, -31.5), (126, -32.5), (123.5, -34), (115, -34.5), (115.5, -31), (113.5, -26)],
    [(144.7, -40.8), (148.3, -41), (147, -43.5), (146, -43.5)],
    [(172.8, -34.5), (178.5, -37.7), (176, -41.5), (174.8, -39.5)],
    [(172.7, -40.5), (174, -42), (170, -46.5), (166.5, -46), (168, -44)],
    [(12.5, 38), (15.5, 38.2), (15, 36.7)],
    [(8.3, 41), (9.7, 41), (9.5, 39), (8.5, 39)],
    [(164, -20), (167, -22.3), (166, -22.3)],
    [(-180, -75), (-160, -78), (-150, -76), (-130, -74.5), (-115, -74), (-100, -72.5), (-90, -73), (-75, -72), (-68, -70), (-63, -64.5), (-58, -63.6), (-62, -68),
     (-60, -74), (-50, -78), (-38, -77), (-28, -74), (-20, -73), (0, -70.5), (20, -70), (40, -69), (55, -66), (70, -68), (80, -67), (100, -66), (120, -66.5),
     (140, -66.5), (160, -70), (167, -71.5), (165, -78), (180, -75), (180, -90), (-180, -90)],
]
lake_shapes = [
    [(47, 45), (53, 46.8), (52, 42), (54, 37), (49.5, 37.5), (48, 41)],
    [(-92, 46.8), (-88, 48.7), (-85, 47.5), (-85, 46.6), (-88, 46.6)],
    [(-88, 42), (-87, 45.8), (-85, 45.8), (-86.3, 42)],
    [(-84, 46), (-80, 45), (-81.5, 43.2), (-83.5, 43.8)],
    [(-83, 42), (-79, 42.8), (-76.5, 43.5), (-79.5, 43.8), (-82, 43)],
]
border_lines = [
    [(-123, 49), (-95, 49), (-89, 48), (-83, 46), (-82.5, 42), (-79, 43), (-75, 45), (-70, 46), (-67.5, 47.3), (-67, 45)],
    [(-141, 69.7), (-141, 60), (-135, 59), (-130, 55)],
    [(-117, 32.5), (-106.5, 31.7), (-103, 29), (-97.3, 26)],
    [(-92, 14.5), (-91, 17.5), (-89, 17.8), (-88.5, 16)],
    [(-72, 12), (-72.5, 7), (-67, 6), (-67, 1.5), (-70, -4), (-74, -7), (-70, -11), (-69, -16), (-69.5, -18), (-67.5, -22), (-70, -30), (-71.5, -40), (-72, -50)],
    [(-67, 1.5), (-60, 5), (-60, 8)],
    [(-70, -11), (-65, -10), (-60, -14), (-58, -20), (-55, -24), (-54, -27), (-57.5, -30), (-53.5, -33.8)],
    [(-67.5, -22), (-62, -22), (-58, -20)],
    [(-78, 2), (-75.5, 0), (-78, -3), (-80.3, -3.5)],
    [(-8.8, 42), (-6.5, 41.7), (-7, 37.3)], [(-1.5, 43.5), (3, 42.5)],
    [(1.5, 50.9), (6, 49.5), (8, 49), (7.5, 47.5), (7, 44)], [(8, 54.8), (6.2, 52), (6, 49.5)], [(14, 54), (15, 51), (12.5, 50), (13, 47.5), (7.5, 47.5)],
    [(13, 47.5), (17, 48), (22.5, 48.2), (24, 50.5), (23.5, 54)], [(22.5, 48.2), (28, 45.5)], [(24, 50.5), (32, 52), (40, 49.5), (38.5, 47)],
    [(28, 60), (30, 62), (29, 69)], [(12, 60), (12.5, 63), (18, 68.5), (25, 69), (29, 69)], [(28, 56), (32, 52)],
    [(40, 43.5), (47, 41.5), (48.5, 41.8)], [(26.5, 41.5), (28, 42)], [(36.7, 36.7), (44, 37), (44.8, 39.5), (43.5, 41)], [(44, 37), (46, 33), (48.5, 30)],
    [(46, 38.8), (48, 38.5)], [(44.8, 39.5), (46, 33), (46.5, 29), (52, 25), (56, 22), (52, 19), (45, 17), (43, 16.5)], [(61, 36.5), (61.5, 31), (61.5, 25)],
    [(53.8, 37), (61, 36.5), (66, 37.3), (74, 37), (70, 33), (66.5, 29.5), (61.5, 29.5)], [(74, 37), (79, 32.5), (78, 30), (81, 30), (88, 27.8), (92, 27.5), (97, 28), (98, 24), (94, 21)],
    [(74, 37), (74.5, 32), (70, 25), (69, 22.3)], [(88, 26), (89, 22)], [(51, 51), (60, 51), (70, 55), (77, 53.5), (87, 49)], [(53, 42), (56, 45), (66, 41), (74, 41)], [(80, 42), (74, 41)],
    [(80, 42), (83, 47), (87, 49), (98, 52), (107, 50), (116, 50), (120, 53), (127, 50), (135, 48), (131, 43)], [(87, 49), (96, 43), (105, 42), (112, 45), (120, 47), (116, 50)],
    [(98, 24), (101, 21), (106, 23), (108, 21.5)], [(101, 21), (105, 18), (107, 15)], [(98.5, 14), (100, 20)], [(124.5, 40), (130, 42.5)],
    [(-13, 27.5), (-8.7, 27.5), (-1.5, 32), (-2, 35)], [(-8.7, 27.5), (3, 19), (12, 23.5), (9.5, 30), (8, 33), (8.5, 37)], [(12, 23.5), (25, 20), (25, 32)], [(25, 22), (37, 22)],
    [(25, 20), (24, 13), (22, 10), (27, 5), (34, 4), (36, 10), (38, 15)], [(34, 4), (41, 4), (48, 8)], [(3, 19), (3, 12), (2, 6)], [(-17, 16), (-12, 15), (-5, 15), (3, 15), (14, 13)],
    [(-11, 11), (-8, 10), (-3, 11), (3, 12), (9, 13), (14, 13), (15, 8), (9.7, 4.5)], [(14, 13), (24, 13)], [(15, 8), (18, 3), (27, 5)], [(34, 4), (30, -1), (30, -8), (22, -11), (12, -6)],
    [(34, -1), (41, -2)], [(30, -8), (34, -11), (40.5, -11)], [(22, -11), (22, -18), (25, -18), (33, -16), (35, -12)], [(12, -17), (22, -18), (20, -28), (17, -29)], [(25, -18), (32, -22), (32, -26)],
    [(129, -15), (129, -31.5)], [(138, -16.5), (138, -26), (129, -26)], [(141, -26), (141, -38)], [(141, -2.6), (141, -9)],
]

date_ticks = pd.to_datetime(['2022-08-15', '2022-08-22', '2022-09-01', '2022-09-08', '2022-09-15', '2022-09-22'])


def to_dates(days):
    return pd.Timestamp('2022-08-01') + pd.to_timedelta(np.array(days, dtype=float) - 1, unit='D')


def style_time(ax, start='2022-08-11 21:00', end='2022-09-28 02:00'):
    ax.set_xlim(pd.Timestamp(start), pd.Timestamp(end))
    ax.set_xticks(date_ticks)
    ax.xaxis.set_major_formatter(mdates.DateFormatter('%y-%m-%d'))
    ax.tick_params(axis='x', labelrotation=20)
    ax.grid(True, color='#d5d8dc', lw=0.9, alpha=0.75)
    ax.set_axisbelow(True)
    ax.set_xlabel('')


def add_axes(left, top, right, bottom):
    return fig.add_axes([left / W, 1 - bottom / H, (right - left) / W, (bottom - top) / H])


W, H = 1590, 1189
RED, SLATE, GREY = '#c0392b', '#2c3e50', '#7f8c8d'

plt.rcParams['font.family'] = ['DejaVu Sans']
plt.rcParams['xtick.major.size'] = 4
plt.rcParams['ytick.major.size'] = 3.5
fig = plt.figure(figsize=(W / 100, H / 100), dpi=100)

# flight track map
ax = add_axes(83, 31.5, 788, 338.5)
ax.set_facecolor('#d3e5f1')
for shape in land_shapes:
    xs, ys = zip(*shape)
    ax.fill(xs, ys, facecolor='#e8e8e4', edgecolor='#c6cbcd', lw=0.7, zorder=1)
for shape in lake_shapes:
    xs, ys = zip(*shape)
    ax.fill(xs, ys, facecolor='#d3e5f1', edgecolor='#c6cbcd', lw=0.5, zorder=1.1)
for line in border_lines:
    xs, ys = zip(*line)
    ax.plot(xs, ys, color='#dcdcd8', lw=0.6, zorder=1.2)
track_lon, track_lat = zip(*track_points)
sns.scatterplot(x=list(track_lon), y=list(track_lat), s=20, color=RED, linewidth=0, ax=ax, label='Track', zorder=4)
sns.scatterplot(x=launch_lon, y=launch_lat, s=170, color='#27ae60', edgecolor='black', linewidth=1.2, ax=ax, label='Launch', zorder=5)
sns.scatterplot(x=last_lon, y=last_lat, s=260, marker='*', color='#1f77b4', edgecolor='black', linewidth=1.2, ax=ax, label='Last fix', zorder=5)
ax.set_xlim(-180, 180)
ax.set_ylim(-90, 90)
ax.set_xticks(range(-180, 181, 60))
ax.set_yticks(range(-90, 91, 30))
ax.grid(True, color='#a9b1b5', lw=0.6, ls='--', alpha=0.35, zorder=2)
ax.set_xlabel('Longitude (deg)')
ax.set_ylabel('Latitude (deg)')
ax.set_title('Flight Track', fontsize=12)
ax.legend(loc='lower left', fontsize=8)

# summary panel
cx = 1215 / W
summary = [
    (51.5, 'Pico Balloon Archive', 16, '#1a5276', 0),
    (74.5, 'Callsign: SA6BSS-7   (APRS)', 14, 'black', -1),
    (95.5, '2022-08-14 09:46:29  to  2022-09-25 22:19:17  UTC', 11, 'black', 0),
    (118.5, 'Time aloft: 42.5 days    Data points: 6305', 11, 'black', 0),
    (141.5, 'Altitude: 13087 - 14229 m    (float 430 h)', 11, 'black', 0),
    (164.5, 'Latitude range: 18.43 to 64.29', 11, 'black', 0),
    (187.5, 'Path length: 51,886 km', 11, 'black', 0),
    (210.5, 'Position source: reported GPS    σ(E,N) = 12, 12 m', 11, 'black', 0),
    (233.5, 'Median sampling gap: 1 min    Longest gap: 234.0 h', 11, 'black', 0),
    (258.5, 'Data quality score: 0.863', 13, '#1a5276', 0),
    (279.5, 'precision=0.93   cadence=1.00   agreement=1.00   stability=0.99   coverage=0.42', 9, '#555555', 3),
]
for y_px, label, size, colour, shift in summary:
    fig.text(cx + shift / W, 1 - y_px / H, label, fontsize=size, color=colour, ha='center', va='center')

# wind speed
ax = add_axes(83, 420, 788, 727)
band_days, band_low, band_high = zip(*wind_band)
ax.fill_between(to_dates(band_days), band_low, band_high, color=GREY, alpha=0.35, lw=0, label='±1σ propagated error')
wind_days, wind_speed = zip(*wind_points)
sns.scatterplot(x=to_dates(wind_days), y=list(wind_speed), s=11, color=SLATE, linewidth=0, ax=ax, label='Wind speed', zorder=3)
sns.lineplot(x=to_dates(mean_days), y=mean_wind, color=RED, lw=1.3, estimator=None, sort=False, ax=ax, label='Daily mean', zorder=4)
style_time(ax)
ax.set_ylim(0, 48.2)
ax.set_ylabel('Wind speed (m s$^{-1}$)')
ax.set_title('Wind Speed vs. Time', fontsize=12)
ax.legend(loc='upper right', fontsize=8)

# latitude, this panel has its own time range
ax = add_axes(861, 420, 1566, 727)
lat_days, lat_values = zip(*lat_points)
sns.scatterplot(x=to_dates(lat_days), y=list(lat_values), s=24, color='black', linewidth=0, ax=ax, zorder=3)
style_time(ax, '2022-08-12 06:30', '2022-09-28 01:00')
ax.set_ylim(-90, 90)
ax.set_yticks(range(-90, 91, 30))
ax.set_ylabel('Latitude (deg)')
ax.set_title('Latitude vs. Time', fontsize=12)

# altitude
ax = add_axes(83, 808, 788, 1115)
alt_days, alt_values = zip(*alt_points)
sns.scatterplot(x=to_dates(alt_days), y=list(alt_values), s=10, color=GREY, linewidth=0, ax=ax, zorder=3)
sns.lineplot(x=to_dates(mean_days), y=mean_alt, color=RED, lw=1.3, estimator=None, sort=False, ax=ax, zorder=4)
style_time(ax)
ax.set_ylim(13093, 14235)
ax.set_yticks(range(13200, 14201, 200))
ax.set_xlabel('UTC date')
ax.set_ylabel('Altitude (m AMSL)')
ax.set_title('Balloon Altitude vs. Time', fontsize=12)

# u and v histogram
ax = add_axes(861, 808, 1566, 1115)
edge = (0, 0, 0, 0.7)
sns.histplot(x=hist_centres, weights=u_counts, bins=hist_edges, color='#1f77b4', alpha=0.65, edgecolor=edge, linewidth=1, ax=ax, label='U (zonal)')
sns.histplot(x=hist_centres, weights=v_counts, bins=hist_edges, color='#ff7f0e', alpha=0.65, edgecolor=edge, linewidth=1, ax=ax, label='V (meridional)')
ax.set_xlim(-100, 100)
ax.set_ylim(0, 709)
ax.set_xticks(range(-100, 101, 25))
ax.grid(True, color='#d5d8dc', lw=0.9, alpha=0.75)
ax.set_xlabel('Wind speed (m s$^{-1}$)')
ax.set_ylabel('Frequency')
ax.set_title('U and V Wind Components', fontsize=12)
ax.legend(loc='upper right', fontsize=8)

fig.savefig('out.png', dpi=100)
